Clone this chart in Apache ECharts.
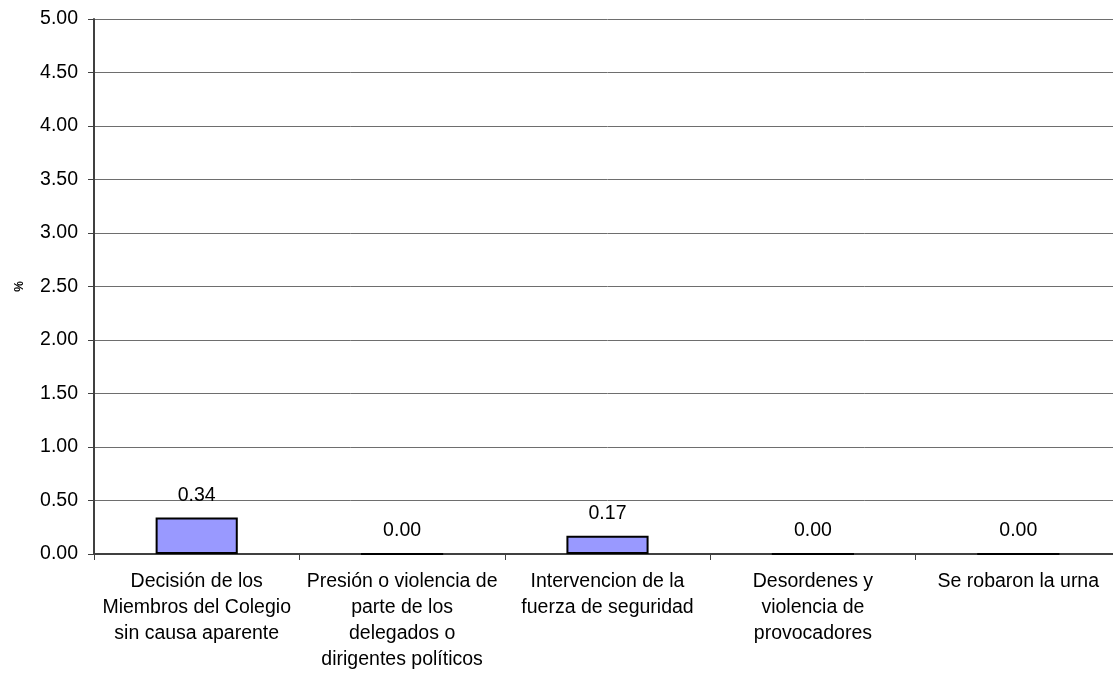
<!DOCTYPE html>
<html><head><meta charset="utf-8">
<script src="https://cdn.jsdelivr.net/npm/echarts@6/dist/echarts.min.js"></script>
<style>html,body{margin:0;padding:0;background:#fff;overflow:hidden}#c{width:1121px;height:681px}</style>
</head><body><div id="c"></div>
<script>
var categories = [
  "Decisión de los\nMiembros del Colegio\nsin causa aparente",
  "Presión o violencia de\nparte de los\ndelegados o\ndirigentes políticos",
  "Intervencion de la\nfuerza de seguridad",
  "Desordenes y\nviolencia de\nprovocadores",
  "Se robaron la urna"
];
var values = [0.34, 0.00, 0.17, 0.00, 0.00];
var yTicks = {min: 0, max: 5, interval: 0.5};

var chart = echarts.init(document.getElementById('c'));
chart.setOption({
  animation: false,
  textStyle: {fontFamily: 'Liberation Sans, Arial, sans-serif'},
  grid: {left: 94, right: 0, top: 19, bottom: 127, containLabel: false},
  xAxis: {
    type: 'category', data: categories,
    axisLine: {lineStyle: {color: '#404040', width: 2}},
    axisTick: {show: true, alignWithLabel: false, length: 6, lineStyle: {color: '#404040'}},
    axisLabel: {color: '#000', fontSize: 19.5, lineHeight: 26, margin: 15, interval: 0}
  },
  yAxis: {
    type: 'value', min: yTicks.min, max: yTicks.max, interval: yTicks.interval,
    name: '%', nameLocation: 'middle', nameGap: 68, nameRotate: 90,
    nameTextStyle: {fontSize: 12, fontWeight: 'bold', color: '#000'},
    axisLine: {show: true, lineStyle: {color: '#404040', width: 2}},
    axisTick: {show: true, length: 6, lineStyle: {color: '#404040'}},
    axisLabel: {color: '#000', fontSize: 19.5, margin: 16, formatter: function(v){return v.toFixed(2);}},
    splitLine: {show: true, lineStyle: {color: '#6e6e6e', width: 1}}
  },
  series: [{
    type: 'bar', data: values, barWidth: '40%',
    itemStyle: {color: '#9999ff', borderColor: '#000', borderWidth: 2},
    label: {show: true, position: 'top', distance: 12, color: '#000', fontSize: 19.5,
      formatter: function(p){return p.value.toFixed(2);}}
  }]
});
</script></body></html>
